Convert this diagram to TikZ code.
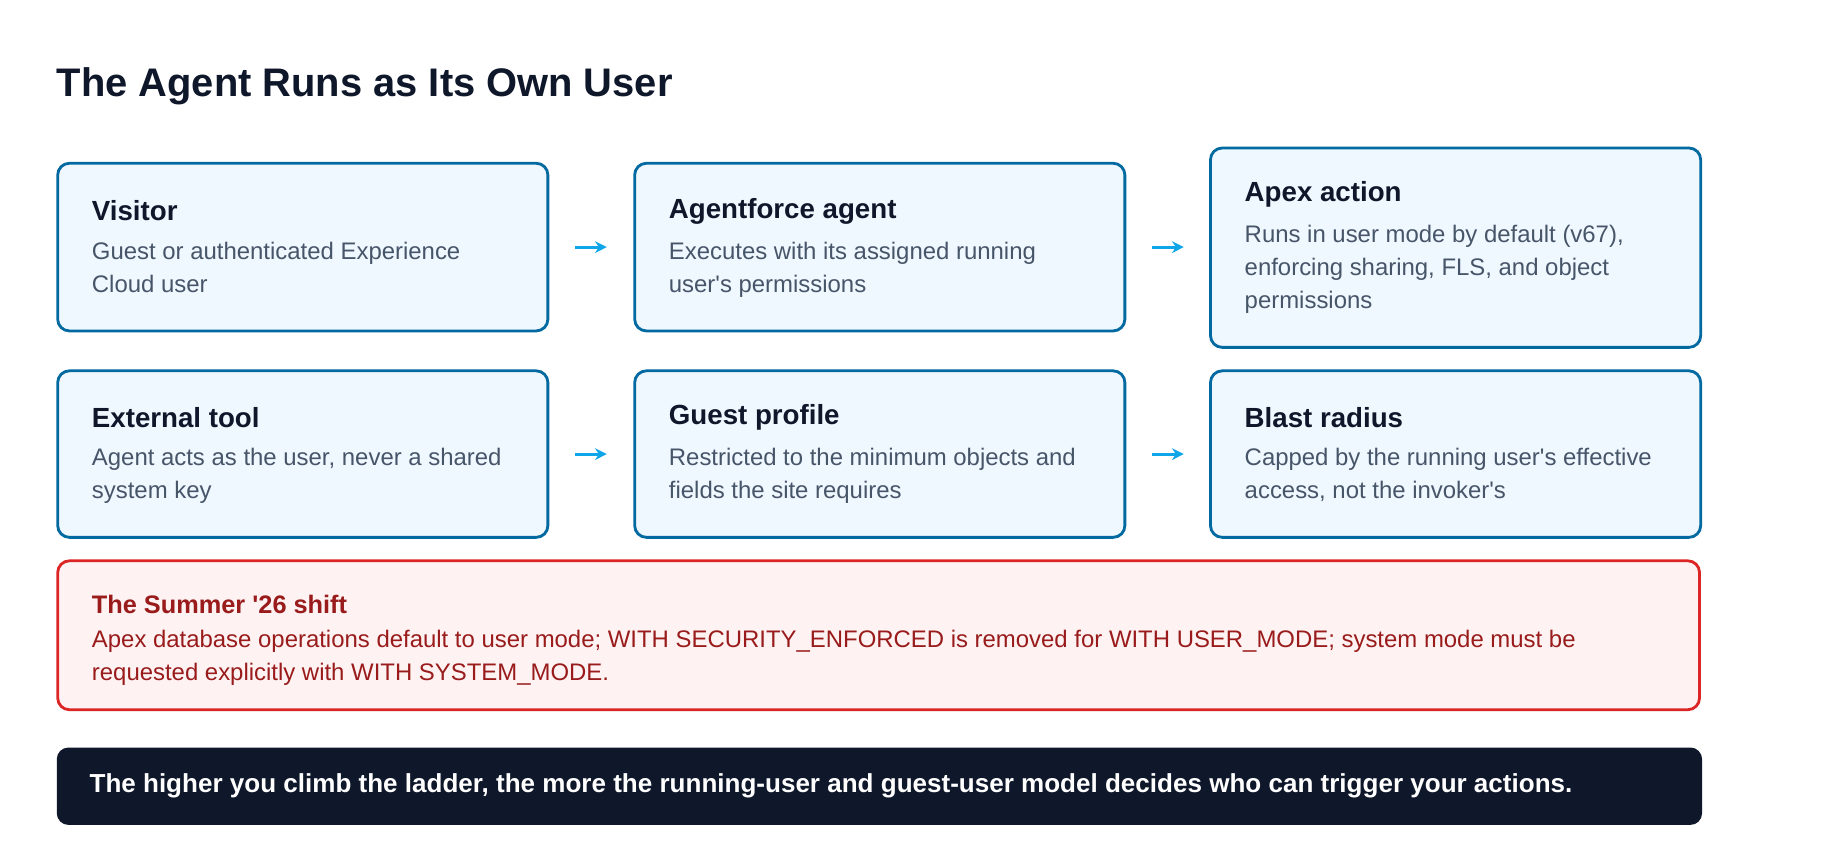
\documentclass[tikz,border=0pt]{standalone}
\usepackage{fontspec}
\setmainfont{Liberation Sans}
\usetikzlibrary{positioning, arrows.meta}
\definecolor{boxline}{RGB}{3,105,161}
\definecolor{boxfill}{RGB}{239,247,255}
\definecolor{ink}{RGB}{15,23,42}
\definecolor{muted}{RGB}{71,85,105}
\definecolor{warnline}{RGB}{220,38,38}
\definecolor{warnfill}{RGB}{254,242,242}
\definecolor{warnink}{RGB}{153,27,27}
\definecolor{flowcolor}{RGB}{14,165,233}
\newcommand{\apos}{\textquotesingle}
\tikzset{
  card/.style = {rectangle, rounded corners=5pt, draw=boxline, fill=boxfill,
                 line width=1.2pt, anchor=north west, minimum width=209pt},
  head/.style = {anchor=west, font=\fontsize{11.8}{13}\selectfont\bfseries, text=ink, inner sep=0pt},
  body/.style = {anchor=north west, align=left, font=\fontsize{10.2}{14}\selectfont, text=muted, inner sep=0pt},
  flow/.style = {-{Stealth[length=5pt,width=5pt]}, line width=1.3pt, draw=flowcolor},
}
\begin{document}
\begin{tikzpicture}[x=0.5pt, y=-0.5pt]
  \useasboundingbox[fill=white] (0,0) rectangle (1569,718.8);

  \node (title) [anchor=base west, inner sep=0pt, text=ink,
        font=\fontsize{17}{20}\selectfont\bfseries] at (48,82) {The Agent Runs as Its Own User};

  %Top row
  \node (visitor) [card, minimum height=71.5pt] at (48,138) {};
  \node (agent) [card, minimum height=71.5pt] at (540,138) {};
  \node (apex) [card, minimum height=85pt] at (1031,125) {};
  \node [head] at (78,180) {Visitor};
  \node [body] at (78,206) {Guest or authenticated Experience\\Cloud user};
  \node [head] at (570,180) {Agentforce agent};
  \node [body] at (570,206) {Executes with its assigned running\\user\apos s permissions};
  \node [head] at (1061,166) {Apex action};
  \node [body] at (1061,192) {Runs in user mode by default (v67),\\enforcing sharing, FLS, and object\\permissions};

  %Bottom row
  \node (tool) [card, minimum height=71pt] at (48,315) {};
  \node (guest) [card, minimum height=71pt] at (540,315) {};
  \node (blast) [card, minimum height=71pt] at (1031,315) {};
  \node [head] at (78,356) {External tool};
  \node [body] at (78,382) {Agent acts as the user, never a shared\\system key};
  \node [head] at (570,356) {Guest profile};
  \node [body] at (570,382) {Restricted to the minimum objects and\\fields the site requires};
  \node [head] at (1061,356) {Blast radius};
  \node [body] at (1061,382) {Capped by the running user\apos s effective\\access, not the invoker\apos s};

  %Arrows
  \draw [flow] ([xshift=11pt]visitor.east) -- ([xshift=24.5pt]visitor.east);
  \draw [flow] ([xshift=11pt]agent.east) -- ([xshift=24.5pt]agent.east);
  \draw [flow] ([xshift=11pt]tool.east) -- ([xshift=24.5pt]tool.east);
  \draw [flow] ([xshift=11pt]guest.east) -- ([xshift=24.5pt]guest.east);

  %Summer shift
  \node (shift) [rectangle, rounded corners=5pt, draw=warnline, fill=warnfill, line width=1.2pt,
        anchor=north west, minimum width=700pt, minimum height=63.5pt] at (48,477) {};
  \node [head, text=warnink, font=\fontsize{10.8}{12}\selectfont\bfseries] at (78,515) {The Summer \apos 26 shift};
  \node [body, text=warnink] at (78,537) {Apex database operations default to user mode; WITH SECURITY\_ENFORCED is removed for WITH USER\_MODE; system mode must be\\requested explicitly with WITH SYSTEM\_MODE.};

  %Takeaway
  \node (takeaway) [rectangle, rounded corners=5pt, fill=ink, anchor=north west,
        minimum width=701.5pt, minimum height=33pt] at (48,637) {};
  \node [head, text=white, font=\fontsize{11.1}{12}\selectfont\bfseries] at (76,670)
        {The higher you climb the ladder, the more the running-user and guest-user model decides who can trigger your actions.};
\end{tikzpicture}
\end{document}
